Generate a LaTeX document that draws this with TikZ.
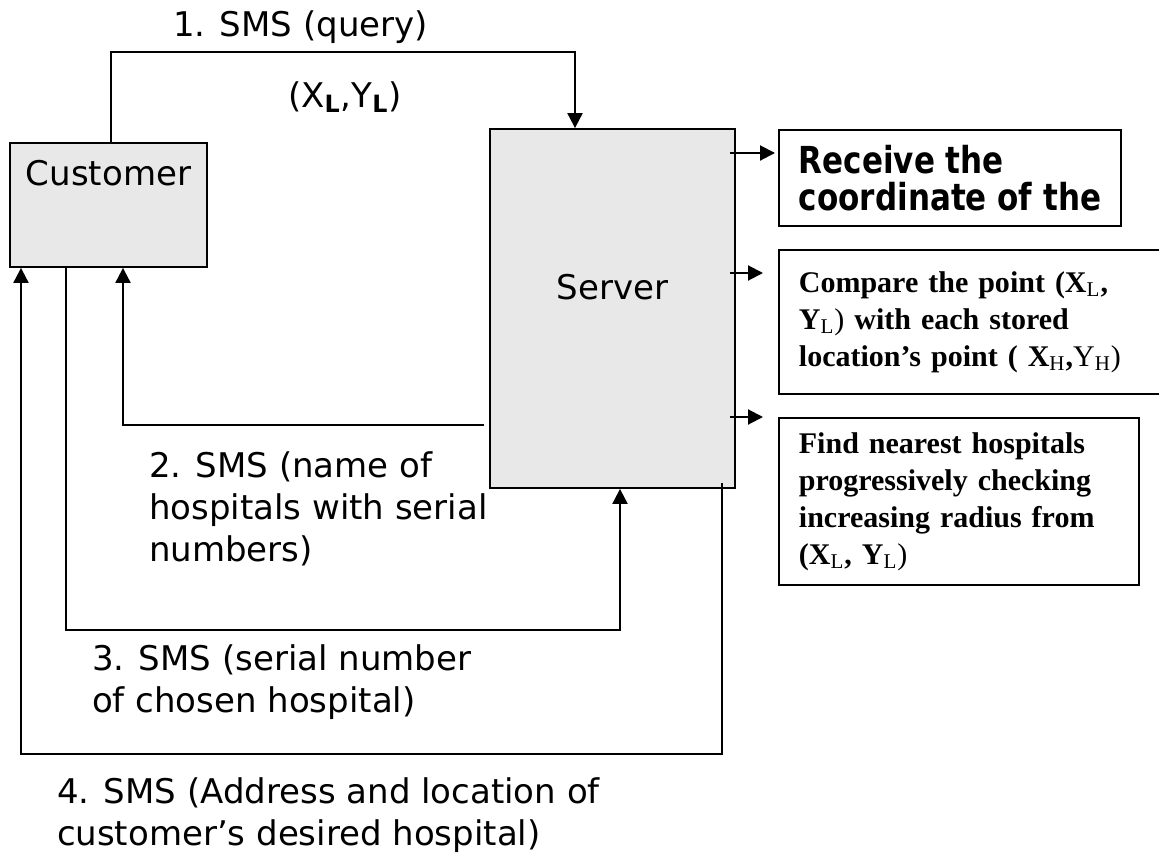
\documentclass[tikz,border=0pt]{standalone}
\usepackage{fontspec}
\usepackage{graphicx}
\setmainfont{DejaVu Sans}
\newfontfamily\timesbold{Liberation Serif}
\usetikzlibrary{arrows.meta}
\definecolor{boxgray}{HTML}{E8E8E8}

\begin{document}
\begin{tikzpicture}[x=0.5pt, y=-0.5pt, line width=1pt,
    >={Triangle[length=7.5pt,width=7.5pt]},
    unit/.style={draw, fill=boxgray, line width=0.9pt, inner sep=0pt},
    stepbox/.style={draw, line width=0.9pt, anchor=north west, align=left, inner xsep=10pt, inner ysep=0pt},
    msg/.style={inner sep=0pt, align=left, font=\fontsize{17pt}{21pt}\selectfont},
    tnote/.style={font=\timesbold\bfseries\fontsize{15pt}{18.5pt}\selectfont}]
    \useasboundingbox (0,0) rectangle (1159,856);

    \node[unit, minimum width=98.5pt, minimum height=62pt,
        label={[msg, anchor=north, yshift=-8.5pt]north:Customer}] (C) at (108.5,205) {};
    \node[unit, minimum width=122.5pt, minimum height=179.5pt,
        label={[msg, yshift=10.75pt]center:Server}] (S) at (612.5,308.5) {};

    \node[stepbox, minimum width=168pt, minimum height=48pt,
        font=\bfseries\fontsize{15.5pt}{18.5pt}\selectfont] (R) at (778,129)
        {\scalebox{1}[1.2]{Receive the}\\ \scalebox{1}[1.2]{coordinate of the}};
    \node[stepbox, tnote, text width=176pt, minimum height=72pt] (P) at (778,249)
        {Compare the point (X\textsubscript{\mdseries L},\\
         Y\textsubscript{\mdseries L}{\mdseries )} with each stored\\
         location’s point ( X\textsubscript{\mdseries H},{\mdseries Y\textsubscript{H})}};
    \node[stepbox, tnote, text width=160pt, minimum height=83.5pt] (F) at (778,417)
        {Find nearest hospitals\\
         progressively checking\\
         increasing radius from\\
         (X\textsubscript{\mdseries L}, Y\textsubscript{\mdseries L}{\mdseries )}};

    \node[msg, anchor=base west] (q1) at (172,37) {1. SMS (query)};
    \node[msg, anchor=base west] (xy) at (287,107) {(X\textsubscript{\textbf{L}},Y\textsubscript{\textbf{L}})};
    \node[msg, anchor=north west] (q2) at (148,451) {2. SMS (name of\\hospitals with serial\\numbers)};
    \node[msg, anchor=north west] (q3) at (91,644) {3. SMS (serial number\\of chosen hospital)};
    \node[msg, anchor=north west] (q4) at (56,777) {4. SMS (Address and location of\\customer’s desired hospital)};

    \coordinate (in1) at ([xshift=-18.75pt]S.north);
    \draw[->] ([xshift=1.25pt]C.north) -- ++(0,-90) -| (in1);
    \draw[->, shorten <=2.5pt] ([yshift=-58.25pt]S.west) -| ([xshift=7.25pt]C.south);
    \draw[->] ([xshift=-21.25pt]C.south) -- ++(0,362) -| ([xshift=3.75pt]S.south);
    \draw[->, shorten <=-3pt] ([xshift=54.75pt]S.south) -- ++(0,265) -| ([xshift=-43.75pt]C.south);

    \coordinate (a1) at ([xshift=-1.5pt,yshift=-12pt]R.north west);
    \draw[->, shorten <=-3pt] (S.east |- a1) -- (a1);
    \coordinate (a2) at ([xshift=-7.5pt,yshift=-12pt]P.north west);
    \draw[->, shorten <=-3pt] (S.east |- a2) -- (a2);
    \coordinate (a3) at ([xshift=-7.5pt]F.north west);
    \draw[->, shorten <=-3pt] (S.east |- a3) -- (a3);
\end{tikzpicture}
\end{document}
